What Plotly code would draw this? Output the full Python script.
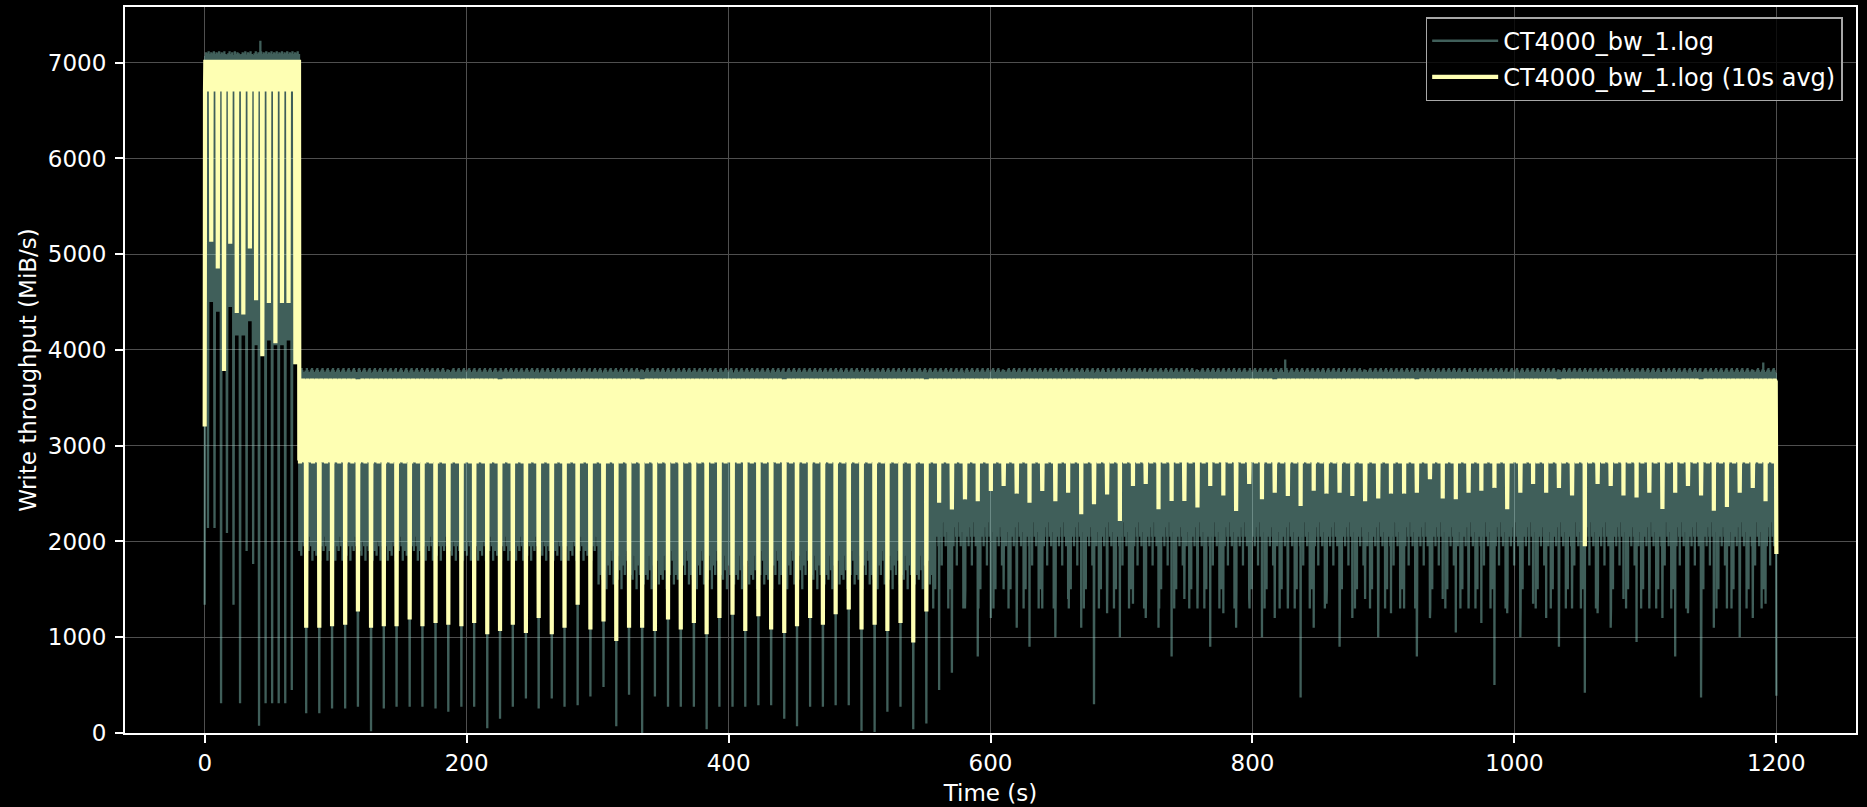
import numpy as np
import plotly.graph_objects as go

# ------------------------------------------------------------------
# Values (MiB/s, seconds)
# ------------------------------------------------------------------
SAMPLE_STEP = 0.25
RUN_END = 1200.0

# Phase 1 : burst phase, 0 - 72 s
p1_end = 72.0
p1_avg_first = 3200
p1_raw_first = 1340
p1_avg_top = 7030
p1_avg_band_low = 6700
p1_raw_top = [7090, 7070, 7110, 7080, 7100, 7060, 7120, 7085]
p1_gap_t = [2.5, 7.5, 12.5, 17.0, 22.0, 27.0, 32.0, 37.0, 41.5, 46.5, 51.5, 56.5, 61.5, 66.5]
p1_dip_t = [5.0, 10.0, 14.75, 19.5, 24.5, 29.5, 34.5, 39.25, 44.0, 49.0, 54.0, 59.0, 64.0, 69.25]
p1_avg_dip = [5130, 4850, 3780, 5110, 4385, 4370, 5060, 4520, 3935, 4490, 4070, 4490, 4490, 3850]
p1_raw_floor = [4500, 4400, 4250, 4450, 4150, 4150, 4300, 4050, 3950, 4100, 4050, 4050, 4100, 3850]
p1_raw_spike = [2140, 2140, 310, 2090, 1340, 310, 1900, 1765, 75, 310, 310, 310, 310, 450]

# Phases 2 and 3 : steady state, one dip per cycle
cycle_first_dip = 77.6
cycle_period = 9.86
phase3_first_cycle = 49
avg_top = [3670, 3680, 3692, 3702, 3695, 3682, 3672]
avg_low = [2840, 2855, 2825, 2860, 2845, 2815, 2850, 2835, 2845, 2830]
raw_top = [3755, 3770, 3785, 3800, 3812, 3792, 3772, 3760]
raw_low_early = [2450, 1950, 2250, 1800, 2350, 2050, 1900, 2400, 2150, 1850, 2300, 2000,
                 2500, 1950, 2200, 1800, 2350, 2100, 1950, 2450, 1900, 2250, 2050]
raw_low_late = [2300, 1800, 2100, 1550, 2200, 1900, 1650, 2250, 2000, 1600, 2150, 1850,
                2350, 1700, 2050, 1500, 2200, 1950, 1750, 2300, 1650, 2100, 1900]
raw_low_phase3 = [2350, 2200, 2050, 2300, 1950, 2250, 2100, 2400, 1300, 2150, 2300, 1500,
                  2200, 2050, 2400, 2100, 1950, 2300, 2150, 2250, 2050, 1750, 2350]
raw_low_switch = 300.0

avg_dip = [
    1100, 1100, 1115, 1130, 1270, 1100, 1115, 1115, 1185, 1115,
    1150, 1130, 1115, 1150, 1030, 1065, 1130, 1045, 1200, 1030,
    1100, 1340, 1080, 1165, 960, 1100, 1100, 1065, 1185, 1080,
    1150, 1030, 1200, 1235, 1065, 1220, 1080, 1045, 1115, 1200,
    1130, 1240, 1290, 1080, 1130, 1065, 1150, 945, 1270,
    2405, 2335, 2440, 2420, 2527, 2580, 2500, 2405, 2527, 2420,
    2510, 2284, 2388, 2490, 2213, 2580, 2600, 2336, 2423, 2423,
    2354, 2579, 2480, 2319, 2600, 2440, 2510, 2475, 2371, 2530,
    2500, 2510, 2475, 2420, 2450, 2500, 2500, 2510, 2650, 2450,
    2440, 2510, 2530, 2560, 2336, 2510, 2600, 2510, 2560, 2480,
    1950, 2600, 2580, 2480, 2460, 2510, 2340, 2510, 2580, 2480,
    2320, 2360, 2510, 2560, 2420,
]
raw_spike = [
    205, 205, 257, 257, 274, 17, 257, 274, 274, 274,
    257, 222, 274, 274, 50, 150, 274, 360, 257, 360,
    274, 290, 380, 480, 70, 400, 0, 380, 274, 274,
    274, 40, 274, 274, 274, 290, 290, 150, 70, 274,
    274, 290, 290, 20, 10, 222, 274, 40, 100,
    450, 630, 1300, 800, 1200, 1500, 1100, 900, 1300, 1000,
    1400, 1100, 300, 1250, 1000, 1350, 1200, 1100, 800, 1400,
    1300, 900, 1250, 1100, 1400, 1000, 1200, 1300, 370, 1100,
    1350, 900, 1200, 1400, 1000, 1250, 1300, 800, 1200, 1400,
    1050, 1300, 1150, 500, 1250, 1000, 1350, 1200, 900, 1300,
    420, 1250, 1100, 1400, 950, 1300, 1200, 800, 1250, 370,
    1100, 1300, 1000, 1200, 1350,
]
raw_peak_t = [42.5, 825.0, 1190.0]
raw_peak_v = [7230, 3900, 3870]
avg_last = 1870
raw_last = 390

# ------------------------------------------------------------------
# Assemble the two logged series on the sampling grid
# ------------------------------------------------------------------
t = np.round(np.arange(0, RUN_END + SAMPLE_STEP / 2, SAMPLE_STEP), 3)
n = len(t)
avg = np.zeros(n)
raw = np.zeros(n)


def idx(time_s):
    return int(round(time_s / SAMPLE_STEP))


for k in range(n):
    tk = t[k]
    hi = (k % 2 == 0)
    if tk <= p1_end:
        s = max(int(np.searchsorted(p1_gap_t, tk, side="right")) - 1, 0)
        avg[k] = p1_avg_top if hi else p1_avg_band_low
        raw[k] = p1_raw_top[(k // 2) % len(p1_raw_top)] if hi else p1_raw_floor[s]
    else:
        ncyc = int(round((tk - cycle_first_dip) / cycle_period))
        if ncyc >= phase3_first_cycle:
            lows = raw_low_phase3
        elif tk >= raw_low_switch:
            lows = raw_low_late
        else:
            lows = raw_low_early
        j = (k // 2)
        avg[k] = avg_top[j % len(avg_top)] if hi else avg_low[j % len(avg_low)]
        raw[k] = raw_top[j % len(raw_top)] if hi else lows[j % len(lows)]

# phase 1 : gaps (raw spikes) and yellow strokes
for s in range(len(p1_gap_t)):
    raw[idx(p1_gap_t[s])] = p1_raw_spike[s]
    avg[idx(p1_dip_t[s])] = p1_avg_dip[s]

# phases 2 and 3 : one dip per cycle
for i in range(len(avg_dip)):
    kk = idx(cycle_first_dip + i * cycle_period)
    if kk < n:
        avg[kk] = avg_dip[i]
        raw[kk] = raw_spike[i]

for tp, vp in zip(raw_peak_t, raw_peak_v):
    raw[idx(tp)] = vp

avg[0] = p1_avg_first
raw[0] = p1_raw_first
avg[-1] = avg_last
raw[-1] = raw_last

# ------------------------------------------------------------------
fig = go.Figure()
fig.add_trace(go.Scatter(
    x=t, y=raw, mode="lines", name="CT4000_bw_1.log", legendgroup="raw",
    line=dict(color="rgba(141,211,199,0.45)", width=2.3, simplify=False),
))
fig.add_trace(go.Scatter(
    x=t, y=avg, mode="lines", name="CT4000_bw_1.log (10s avg)", legendgroup="avg",
    line=dict(color="#feffb3", width=4.2, simplify=False),
))

axis_common = dict(
    showgrid=True, gridcolor="#4f4f4f", gridwidth=1.2,
    ticks="outside", ticklen=8, tickwidth=1.5, tickcolor="white",
    showline=True, linecolor="white", linewidth=2, mirror=True,
    zeroline=False, tickfont=dict(size=23, color="white"),
)

fig.update_layout(
    width=1867, height=807, autosize=False,
    paper_bgcolor="black", plot_bgcolor="black",
    margin=dict(l=125, r=11, t=5, b=74),
    font=dict(family="DejaVu Sans", size=23, color="white"),
    showlegend=True,
    legend=dict(
        x=0.9923, y=0.986, xanchor="right", yanchor="top",
        bgcolor="rgba(0,0,0,0.8)", bordercolor="#a8a8a8", borderwidth=1.5,
        font=dict(size=24, color="white"), itemwidth=66,
        traceorder="grouped", tracegroupgap=2,
    ),
    xaxis=dict(
        range=[-60.85, 1260.8], tickmode="array",
        tickvals=[0, 200, 400, 600, 800, 1000, 1200],
        title=dict(text="Time (s)", font=dict(size=23), standoff=10),
        **axis_common,
    ),
    yaxis=dict(
        range=[0, 7582], tickmode="array",
        tickvals=[0, 1000, 2000, 3000, 4000, 5000, 6000, 7000],
        title=dict(text="Write throughput (MiB/s)", font=dict(size=23), standoff=5),
        ticklabelstandoff=4,
        **axis_common,
    ),
)

fig.write_html(
    "out.html",
    config={"displayModeBar": False},
    post_script="document.body.style.margin='0';document.body.style.overflow='hidden';",
)
